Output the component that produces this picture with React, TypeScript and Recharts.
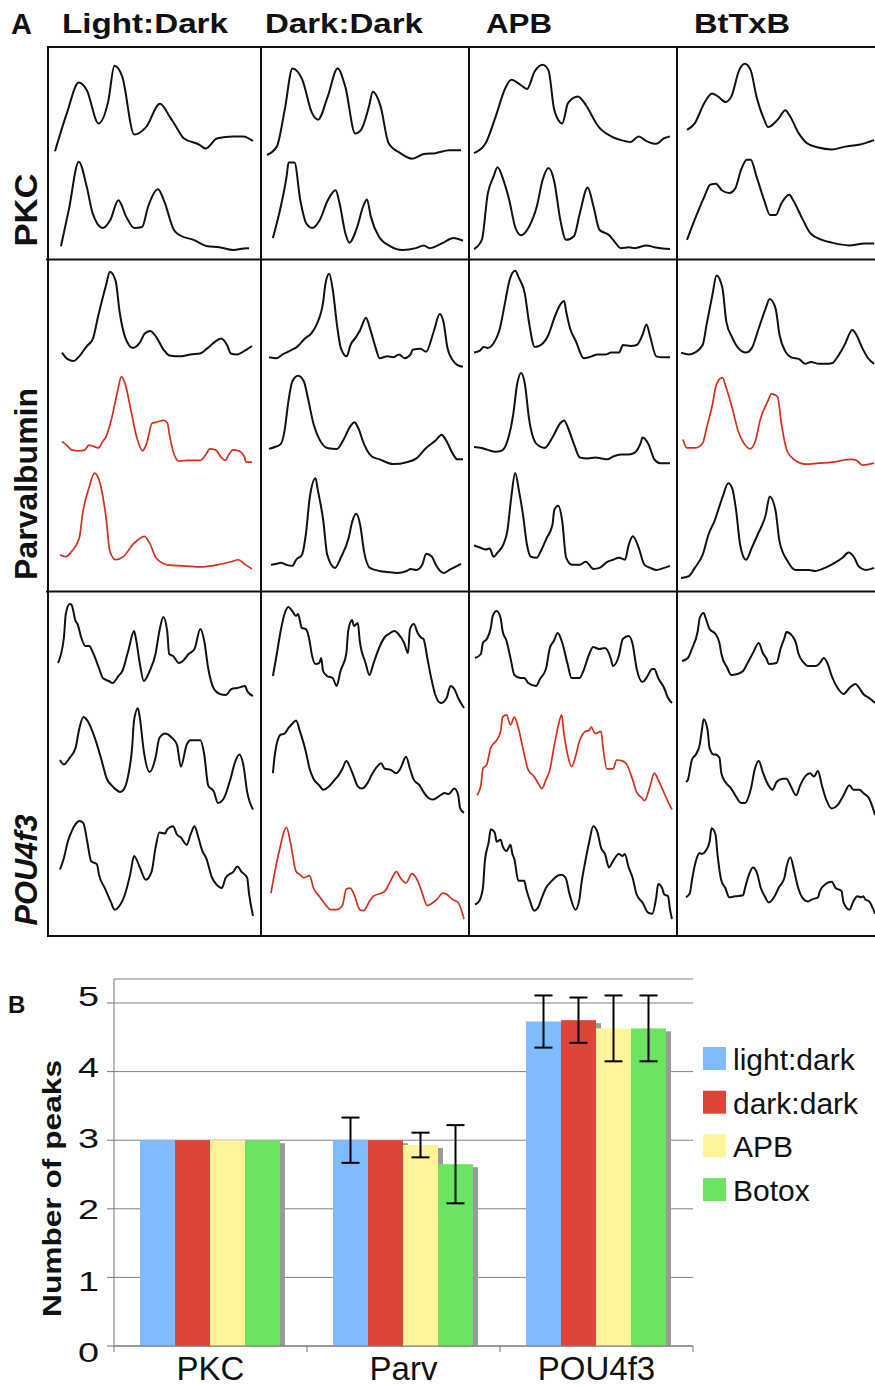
import { LineChart, Line, XAxis, YAxis, BarChart, Bar, CartesianGrid, ErrorBar } from "recharts"

type Pt = [number, number]

// Panel A: line-scan profiles, [position along scan %, intensity %]
const pkcLD1: Pt[] = [[0,4],[6,45],[12,78],[16,70],[22,34],[27,59],[30,96],[34,84],[40,22],[46,30],[53,55],[58,41],[61,31],[65,18],[73,11],[76,7],[82,18],[90,20],[95,20],[100,15]]
const pkcLD2: Pt[] = [[3,4],[7,44],[12,96],[16,69],[19,40],[24,24],[28,33],[32,54],[36,36],[40,24],[44,25],[47,47],[52,66],[55,54],[60,22],[63,16],[70,11],[77,4],[83,3],[90,0],[97,2],[98,2]]
const pkcDD1: Pt[] = [[0,0],[5,9],[9,48],[13,93],[18,81],[23,45],[26,38],[31,63],[36,93],[40,73],[45,23],[48,27],[52,52],[54,68],[58,52],[62,13],[68,2],[74,-4],[80,1],[86,2],[93,5],[99,5]]
const pkcDD2: Pt[] = [[3,13],[7,47],[10,80],[11,95],[14,95],[17,54],[20,29],[23,24],[27,33],[31,54],[35,65],[37,51],[40,18],[42,8],[46,25],[49,47],[51,55],[53,36],[57,15],[63,4],[69,0],[76,2],[80,5],[83,2],[90,8],[95,13],[100,10]]
const pkcAPB1: Pt[] = [[0,2],[6,13],[11,41],[16,72],[19,81],[24,75],[27,71],[31,90],[35,97],[38,91],[41,48],[45,34],[48,56],[53,63],[57,54],[61,39],[63,32],[70,20],[75,16],[80,14],[84,20],[88,15],[93,12],[97,18],[100,20]]
const pkcAPB2: Pt[] = [[0,1],[4,11],[7,61],[10,80],[12,90],[15,76],[18,54],[21,25],[24,16],[28,25],[32,47],[35,76],[38,89],[41,74],[44,33],[47,11],[51,15],[54,40],[58,68],[61,47],[64,22],[69,16],[71,11],[75,2],[79,3],[82,2],[88,5],[92,3],[100,1]]
const pkcBt1: Pt[] = [[0,27],[4,34],[9,56],[13,66],[16,63],[20,57],[23,63],[27,91],[30,98],[33,91],[36,63],[40,38],[42,30],[47,38],[51,48],[53,43],[58,23],[62,13],[68,8],[75,6],[82,9],[89,11],[97,16]]
const pkcBt2: Pt[] = [[0,11],[4,33],[9,58],[12,71],[15,72],[18,65],[22,62],[25,67],[28,87],[31,98],[33,98],[36,80],[40,54],[43,38],[46,38],[49,51],[53,60],[55,54],[60,33],[64,18],[70,11],[75,8],[84,5],[92,7],[97,7]]

const parvLD1: Pt[] = [[1,10],[4,3],[7,1],[10,6],[14,17],[17,24],[20,50],[24,82],[26,96],[29,86],[31,54],[34,26],[38,15],[42,22],[44,30],[47,33],[50,27],[54,13],[57,7],[63,6],[68,8],[73,9],[77,15],[81,22],[84,25],[87,18],[89,9],[92,8],[97,13],[100,17]]
const parvLD2: Pt[] = [[1,26],[4,21],[6,17],[10,16],[13,17],[15,22],[17,21],[20,19],[22,25],[24,31],[27,51],[30,79],[32,94],[34,86],[37,58],[40,30],[43,16],[45,23],[48,45],[50,46],[54,48],[56,45],[57,33],[59,15],[62,5],[66,6],[73,6],[76,12],[78,18],[81,17],[84,9],[86,6],[88,12],[90,17],[93,16],[96,10],[97,4],[100,4]]
const parvLD3: Pt[] = [[0,17],[3,15],[6,20],[10,33],[12,60],[15,82],[18,97],[21,86],[24,53],[26,20],[29,12],[33,15],[38,27],[44,35],[47,27],[50,14],[56,7],[63,6],[73,5],[82,7],[89,10],[93,12],[96,8],[100,3]]
const parvDD1: Pt[] = [[0,5],[4,4],[7,8],[11,12],[15,17],[18,24],[22,31],[25,42],[28,65],[29,82],[31,94],[33,75],[35,40],[37,15],[40,6],[42,18],[45,27],[47,34],[50,47],[52,36],[55,15],[57,4],[61,6],[64,5],[67,8],[70,4],[73,8],[74,13],[78,14],[81,11],[85,33],[88,51],[90,42],[92,15],[95,1],[97,-3],[100,-5]]
const parvDD2: Pt[] = [[0,18],[3,20],[6,23],[8,37],[10,68],[12,89],[15,95],[18,89],[20,72],[23,44],[26,28],[30,19],[35,18],[38,26],[42,42],[44,46],[46,40],[49,23],[53,10],[57,7],[64,2],[71,4],[76,8],[81,19],[86,27],[89,33],[91,28],[95,12],[97,7],[100,7]]
const parvDD3: Pt[] = [[1,7],[4,8],[6,9],[9,7],[12,6],[14,12],[17,17],[19,37],[21,73],[24,92],[25,82],[28,50],[30,17],[34,4],[37,14],[41,33],[43,50],[45,57],[47,46],[49,20],[52,4],[57,1],[61,0],[66,-1],[71,1],[73,3],[76,2],[79,7],[81,18],[84,15],[86,7],[90,-1],[93,2],[97,6],[99,8]]
const parvAPB1: Pt[] = [[0,10],[3,12],[5,16],[7,15],[10,20],[13,34],[16,65],[18,86],[21,97],[23,89],[26,72],[28,43],[31,16],[34,18],[38,29],[41,47],[44,61],[46,65],[47,54],[49,36],[52,22],[56,4],[60,6],[63,8],[67,8],[70,10],[74,10],[76,18],[80,17],[83,18],[86,29],[88,40],[90,26],[93,6],[96,5],[100,5]]
const parvAPB2: Pt[] = [[0,20],[4,19],[7,17],[11,15],[14,16],[17,26],[20,54],[22,86],[24,98],[26,86],[28,51],[32,23],[36,19],[40,30],[44,45],[46,48],[48,40],[51,23],[54,9],[58,8],[62,9],[65,8],[68,7],[71,10],[75,12],[79,12],[82,14],[85,24],[86,30],[89,23],[92,7],[95,3],[100,3]]
const parvAPB3: Pt[] = [[0,26],[3,24],[6,22],[8,23],[10,15],[12,19],[15,27],[17,40],[19,73],[21,97],[23,79],[25,56],[27,27],[29,15],[32,14],[34,20],[37,33],[40,46],[41,61],[43,65],[45,50],[47,14],[50,7],[54,7],[57,10],[61,3],[64,4],[68,10],[71,12],[74,14],[77,12],[79,27],[81,35],[84,24],[87,7],[90,4],[93,2],[97,4],[100,6]]
const parvBt1: Pt[] = [[0,10],[4,8],[7,10],[11,18],[13,40],[16,72],[18,92],[21,79],[23,43],[26,26],[29,15],[33,10],[36,15],[39,33],[43,57],[45,67],[48,57],[50,29],[53,11],[56,5],[60,3],[63,-2],[66,0],[70,-2],[73,-2],[77,-1],[79,4],[83,18],[87,34],[89,29],[92,15],[95,4],[98,-2]]
const parvBt2: Pt[] = [[1,28],[3,19],[7,19],[11,24],[13,40],[16,65],[18,86],[21,93],[23,82],[26,61],[29,37],[33,21],[35,18],[38,28],[40,47],[44,68],[46,76],[49,73],[51,44],[54,15],[58,6],[63,2],[70,3],[77,4],[82,6],[86,7],[89,6],[92,1],[98,3]]
const parvBt3: Pt[] = [[0,-6],[4,-4],[7,4],[11,17],[14,37],[17,50],[21,73],[24,87],[26,82],[28,60],[30,27],[33,12],[36,24],[39,37],[43,56],[45,74],[48,60],[50,30],[54,11],[58,2],[65,2],[68,1],[73,4],[78,9],[82,14],[85,19],[88,14],[90,6],[94,2],[98,4]]

const pouLD1: Pt[] = [[0,38],[3,63],[4,87],[6,97],[7,96],[9,80],[10,77],[12,63],[14,55],[16,55],[18,48],[21,33],[23,23],[26,20],[28,18],[31,25],[33,30],[36,50],[39,70],[40,62],[42,37],[44,20],[47,30],[50,47],[52,70],[54,84],[56,70],[57,47],[59,45],[62,38],[64,40],[67,47],[70,52],[73,72],[75,60],[77,33],[80,12],[83,7],[86,6],[89,12],[92,13],[96,15],[97,10],[100,5]]
const pouLD2: Pt[] = [[1,50],[3,46],[6,52],[9,61],[11,79],[13,89],[15,86],[17,79],[20,64],[22,52],[25,33],[28,26],[32,21],[34,24],[36,36],[38,61],[39,86],[41,97],[42,88],[44,58],[47,39],[50,52],[52,70],[55,74],[58,71],[61,64],[63,44],[66,64],[68,68],[73,68],[75,55],[77,27],[80,21],[82,11],[85,15],[88,30],[91,49],[93,55],[95,46],[97,21],[100,5]]
const pouLD3: Pt[] = [[1,50],[3,61],[5,77],[7,87],[9,94],[11,97],[13,95],[15,77],[17,58],[20,55],[21,45],[24,32],[27,19],[29,11],[32,16],[34,24],[37,45],[39,63],[42,52],[45,40],[48,48],[50,71],[52,86],[55,85],[56,89],[59,92],[61,84],[63,81],[66,74],[68,84],[70,92],[72,81],[74,68],[76,61],[79,42],[81,36],[84,32],[86,42],[90,48],[92,53],[94,48],[97,42],[98,26],[100,5]]
const pouDD1: Pt[] = [[1,25],[3,47],[5,70],[7,87],[9,94],[11,90],[13,85],[14,87],[16,73],[18,72],[20,60],[21,48],[23,37],[25,38],[26,43],[27,30],[29,25],[32,23],[34,15],[36,30],[39,47],[40,70],[42,81],[43,75],[45,78],[46,60],[49,38],[51,26],[53,37],[56,53],[59,64],[61,67],[64,70],[66,67],[69,58],[71,48],[72,72],[74,77],[76,68],[78,63],[79,62],[81,43],[83,23],[85,7],[88,-2],[91,3],[93,15],[95,12],[97,3],[100,-7]]
const pouDD2: Pt[] = [[1,38],[2,55],[5,73],[7,74],[9,79],[11,83],[13,86],[15,76],[18,58],[20,42],[22,33],[25,27],[27,23],[30,26],[33,32],[35,36],[37,42],[39,49],[42,39],[45,26],[47,24],[50,29],[52,36],[55,44],[57,47],[59,42],[62,41],[65,38],[67,42],[70,53],[72,42],[74,32],[77,27],[79,21],[82,15],[84,14],[87,17],[90,20],[92,19],[95,24],[97,18],[98,6],[100,2]]
const pouDD3: Pt[] = [[0,27],[2,48],[5,74],[6,82],[8,91],[10,77],[13,48],[15,45],[17,42],[20,44],[22,32],[25,24],[27,19],[31,11],[34,11],[37,15],[39,31],[41,32],[43,26],[46,11],[48,10],[51,19],[53,24],[57,27],[59,29],[62,39],[65,48],[67,42],[70,37],[73,46],[76,39],[78,29],[81,15],[84,18],[86,21],[89,27],[91,26],[94,21],[97,18],[100,2]]
const pouAPB1: Pt[] = [[0,43],[3,47],[4,58],[6,62],[8,73],[9,85],[11,90],[13,83],[14,70],[16,60],[18,43],[20,26],[23,23],[25,23],[27,18],[31,15],[33,22],[36,32],[38,53],[40,60],[42,68],[44,60],[47,37],[49,23],[53,23],[55,30],[58,47],[60,54],[63,52],[66,53],[69,42],[70,35],[73,45],[75,62],[78,65],[80,57],[82,33],[85,19],[87,23],[90,32],[91,32],[93,23],[96,13],[98,3],[100,-2]]
const pouAPB2: Pt[] = [[1,18],[3,27],[4,42],[6,46],[8,61],[9,64],[11,68],[13,76],[14,89],[16,91],[18,82],[20,89],[22,79],[25,55],[27,41],[30,35],[32,29],[34,24],[36,32],[38,41],[40,61],[42,79],[44,91],[45,76],[47,55],[49,44],[51,53],[53,67],[56,76],[58,77],[59,80],[61,74],[64,76],[65,61],[67,42],[70,42],[72,50],[75,49],[77,46],[80,32],[82,21],[85,15],[86,13],[89,27],[91,38],[93,32],[96,20],[98,12],[100,5]]
const pouAPB3: Pt[] = [[0,16],[2,19],[4,32],[5,58],[7,77],[8,89],[10,86],[11,77],[13,79],[14,73],[16,68],[18,74],[19,65],[20,60],[22,39],[25,39],[26,31],[28,19],[30,10],[32,13],[34,23],[36,32],[39,39],[42,44],[44,45],[46,42],[48,26],[51,11],[53,21],[54,36],[56,58],[58,77],[60,92],[62,87],[64,71],[66,65],[68,52],[70,58],[73,65],[75,63],[76,65],[78,52],[80,42],[82,26],[85,18],[88,8],[90,7],[92,23],[93,36],[95,32],[96,26],[98,24],[99,11],[100,2]]
const pouBt1: Pt[] = [[0,40],[3,43],[5,52],[8,70],[9,83],[11,88],[12,83],[14,72],[17,67],[19,58],[20,47],[23,33],[25,26],[28,27],[31,30],[33,37],[36,48],[39,58],[41,48],[43,42],[44,37],[48,38],[50,52],[52,63],[53,69],[56,65],[58,57],[59,48],[62,38],[64,35],[68,35],[70,38],[72,43],[74,37],[76,25],[79,13],[82,7],[85,13],[88,17],[90,13],[92,7],[95,3],[98,-2]]
const pouBt2: Pt[] = [[2,30],[3,32],[5,50],[7,55],[9,64],[10,76],[11,87],[13,77],[14,61],[16,55],[17,55],[19,52],[20,38],[22,30],[25,24],[27,18],[30,11],[32,11],[35,24],[37,42],[39,49],[41,39],[43,30],[46,23],[48,30],[51,33],[53,33],[55,27],[58,18],[60,27],[63,36],[65,38],[67,35],[69,40],[71,27],[73,15],[76,6],[79,9],[82,18],[85,27],[87,23],[90,23],[92,20],[95,15],[98,0]]
const pouBt3: Pt[] = [[2,23],[4,27],[5,39],[7,58],[9,66],[10,65],[12,68],[14,77],[15,90],[17,84],[18,65],[20,39],[22,32],[24,23],[27,24],[31,25],[32,32],[34,45],[36,52],[38,47],[40,32],[42,24],[44,18],[47,24],[49,32],[52,42],[53,52],[55,62],[57,48],[59,32],[61,23],[64,19],[66,21],[69,23],[70,29],[73,36],[76,38],[78,32],[81,29],[82,18],[85,11],[87,19],[89,24],[91,23],[92,24],[93,21],[95,19],[98,7]]

const conditions = ["Light:Dark", "Dark:Dark", "APB", "BtTxB"]
const markers = ["PKC", "Parvalbumin", "POU4f3"]

// traces per marker row, per condition column
const traceGrid: Pt[][][] = [
  [[pkcLD1, pkcLD2], [pkcDD1, pkcDD2], [pkcAPB1, pkcAPB2], [pkcBt1, pkcBt2]],
  [[parvLD1, parvLD2, parvLD3], [parvDD1, parvDD2, parvDD3], [parvAPB1, parvAPB2, parvAPB3], [parvBt1, parvBt2, parvBt3]],
  [[pouLD1, pouLD2, pouLD3], [pouDD1, pouDD2, pouDD3], [pouAPB1, pouAPB2, pouAPB3], [pouBt1, pouBt2, pouBt3]],
]
const redTraces = [parvLD2, parvLD3, parvBt2, pouAPB2, pouDD3]

// layout of panel A (px)
const bandBoxes = [
  [[62, 93], [158, 92]],
  [[268, 94], [371, 95], [470, 102]],
  [[601, 100], [705, 110], [818, 103]],
]
const colBoxes = [
  [[55, 198], [267, 196], [474, 196], [687, 193]],
  [[60, 192], [269, 194], [474, 196], [681, 197]],
  [[58, 195], [271, 193], [475, 197], [682, 197]],
]

// Panel B
const groups = ["PKC", "Parv", "POU4f3"]
const lightDark = [3, 3, 4.73]
const lightDarkErr = [0, 0.33, 0.38]
const darkDark = [3, 3, 4.75]
const darkDarkErr = [0, 0, 0.33]
const apb = [3, 2.93, 4.63]
const apbErr = [0, 0.18, 0.48]
const botox = [3, 2.65, 4.63]
const botoxErr = [0, 0.57, 0.48]

const seriesKeys = ["ld", "dd", "apb", "botox"]
const seriesNames = ["light:dark", "dark:dark", "APB", "Botox"]
const seriesColors = ["#7fbbff", "#dd443a", "#fff499", "#6ce362"]

const barData = groups.map((g, i) => ({
  group: g,
  ld: lightDark[i], ldErr: lightDarkErr[i],
  dd: darkDark[i], ddErr: darkDarkErr[i],
  apb: apb[i], apbErr: apbErr[i],
  botox: botox[i], botoxErr: botoxErr[i],
}))

const FONT = "'Liberation Sans', Arial, Helvetica, sans-serif"
const RED = "#d42e1c"

function Trace({ pts, left, width, top, height, red }: any) {
  const data = pts.map(([x, y]: Pt) => ({ x, y }))
  return (
    <div style={{ position: "absolute", left, top }}>
      <LineChart width={width} height={height * 1.1} data={data} margin={{ top: 0, right: 0, bottom: 0, left: 0 }}>
        <XAxis type="number" dataKey="x" domain={[0, 100]} hide />
        <YAxis type="number" domain={[-10, 100]} hide />
        <Line
          type="monotone"
          dataKey="y"
          stroke={red ? RED : "#111"}
          strokeWidth={red ? 1.7 : 2}
          dot={false}
          isAnimationActive={false}
        />
      </LineChart>
    </div>
  )
}

function ShadowBar(props: any) {
  const { x, y, width, height, fill } = props
  return (
    <g>
      <rect x={x + 5} y={y + 3} width={width} height={Math.max(height - 3, 0)} fill="#9a9a9a" />
      <rect x={x} y={y} width={width} height={height} fill={fill} />
    </g>
  )
}

function YTick({ x, y, payload }: any) {
  const ty = y + 16 - payload.value * 2.7
  return (
    <text transform={`translate(${x} ${ty}) scale(1.35 1)`} x={0} y={0} textAnchor="end" fontSize={28} fill="#111"
      fontFamily={FONT}>
      {payload.value}
    </text>
  )
}

function CatTick({ x, y, payload, index, visibleTicksCount, width }: any) {
  const half = payload.offset || width / visibleTicksCount / 2
  return (
    <g>
      <line x1={x - half} x2={x - half} y1={y} y2={y + 6} stroke="#777" />
      {index === visibleTicksCount - 1 && <line x1={x + half} x2={x + half} y1={y} y2={y + 6} stroke="#777" />}
      <text x={x} y={y + 34} textAnchor="middle" fontSize={33} fill="#111" fontFamily={FONT}>{payload.value}</text>
    </g>
  )
}

function YLabel({ viewBox }: any) {
  const cx = viewBox.x + 61
  const cy = viewBox.y + viewBox.height / 2 + 26
  return (
    <text x={cx} y={cy} transform={`rotate(-90 ${cx} ${cy})`} textAnchor="middle" fontSize={25.5} fontWeight="bold"
      fill="#111" fontFamily={FONT} textLength={257} lengthAdjust="spacingAndGlyphs">
      Number of peaks
    </text>
  )
}

const headerX = [62, 265, 486, 694]
const headerLen = [166, 158, 66, 96]
const rowLabelY = [210, 484, 870]
const rowLabelLen = [73, 192, 111]

export default function App() {
  return (
    <div style={{ position: "absolute", left: 0, top: 0, width: 875, height: 1386, overflow: "hidden", background: "#fff", fontFamily: FONT }}>
      <style>{"svg { overflow: visible; }"}</style>
      <svg width={875} height={1386} style={{ position: "absolute", left: 0, top: 0 }}>
        <text x={11} y={34} fontSize={29} fontWeight="bold" fill="#111" fontFamily={FONT}>A</text>
        {conditions.map((c, i) => (
          <text key={c} x={headerX[i]} y={33} fontSize={27.5} fontWeight="bold" fill="#111" fontFamily={FONT}
            textLength={headerLen[i]} lengthAdjust="spacingAndGlyphs">{c}</text>
        ))}
        {markers.map((m, i) => (
          <text key={m} x={37} y={rowLabelY[i]} transform={`rotate(-90 37 ${rowLabelY[i]})`} textAnchor="middle"
            fontSize={31} fontWeight="bold" fontStyle={i === 2 ? "italic" : "normal"} fill="#111" fontFamily={FONT}
            textLength={rowLabelLen[i]} lengthAdjust="spacingAndGlyphs">{m}</text>
        ))}
        <g stroke="#111" strokeWidth={2}>
          <line x1={47} x2={875} y1={47} y2={47} />
          <line x1={46} x2={875} y1={259.5} y2={259.5} />
          <line x1={46} x2={875} y1={591.5} y2={591.5} />
          <line x1={47} x2={875} y1={936} y2={936} />
          <line x1={48} x2={48} y1={46} y2={937} />
          <line x1={261} x2={261} y1={46} y2={937} />
          <line x1={469} x2={469} y1={46} y2={937} />
          <line x1={677} x2={677} y1={46} y2={937} />
        </g>
        <text x={8} y={1013} fontSize={24} fontWeight="bold" fill="#111" fontFamily={FONT}>B</text>
        {seriesNames.map((n, i) => (
          <g key={n}>
            <rect x={703} y={1047 + i * 43.7} width={23} height={23} fill={seriesColors[i]} />
            <text x={733} y={1070 + i * 43.7} fontSize={30} fill="#111" fontFamily={FONT}>{n}</text>
          </g>
        ))}
      </svg>

      {traceGrid.map((row, r) =>
        row.map((cell, c) =>
          cell.map((pts, k) => (
            <Trace
              key={`${r}-${c}-${k}`}
              pts={pts}
              left={colBoxes[r][c][0]}
              width={colBoxes[r][c][1]}
              top={bandBoxes[r][k][0]}
              height={bandBoxes[r][k][1]}
              red={redTraces.includes(pts)}
            />
          ))
        )
      )}

      <div style={{ position: "absolute", left: 0, top: 960 }}>
        <BarChart width={875} height={426} data={barData} margin={{ top: 19, right: 182, bottom: 0, left: 0 }}
          barCategoryGap={26} barGap={0}>
          <CartesianGrid vertical={false} stroke="#808080" />
          <XAxis dataKey="group" height={40} axisLine={{ stroke: "#777" }} tickLine={false} tickSize={0} tickMargin={0}
            tick={<CatTick />} interval={0} />
          <YAxis width={114} domain={[0, 5.35]} ticks={[0, 1, 2, 3, 4, 5]} interval={0} tickSize={7} tickMargin={8}
            axisLine={{ stroke: "#777" }} tickLine={{ stroke: "#777" }} tick={<YTick />} label={<YLabel />} />
          {seriesKeys.map((k, i) => (
            <Bar key={k} dataKey={k} name={seriesNames[i]} fill={seriesColors[i]} shape={<ShadowBar />}
              isAnimationActive={false}>
              <ErrorBar dataKey={`${k}Err`} width={9} stroke="#000" strokeWidth={2} direction="y" />
            </Bar>
          ))}
        </BarChart>
      </div>
    </div>
  )
}
